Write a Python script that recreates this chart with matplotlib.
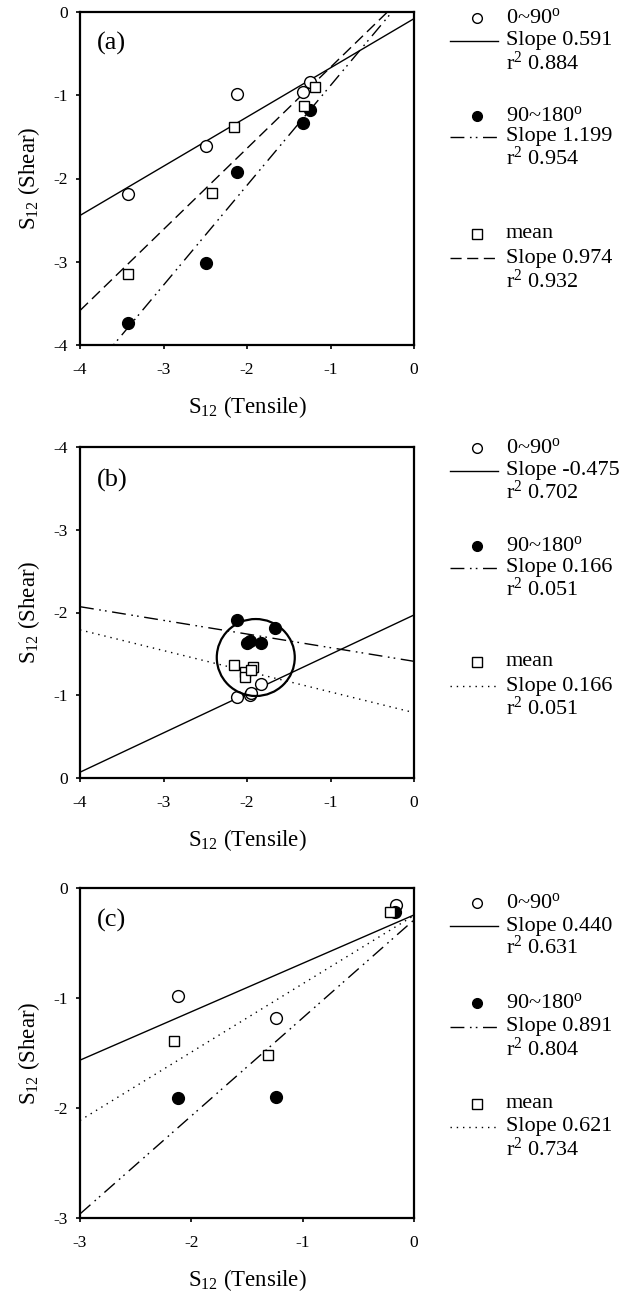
import matplotlib
matplotlib.use("Agg")
import matplotlib.pyplot as plt
from matplotlib.lines import Line2D
from matplotlib.patches import Ellipse
import numpy as np

plt.rcParams['font.family'] = ['Liberation Serif', 'DejaVu Serif']
plt.rcParams['mathtext.fontset'] = 'custom'
plt.rcParams['mathtext.rm'] = 'Liberation Serif'
plt.rcParams['mathtext.it'] = 'Liberation Serif:italic'

# ---------------- data ----------------
# panel (a)
a_open_x = [-3.43, -2.49, -2.12, -1.33, -1.25]
a_open_y = [-2.19, -1.61, -0.98, -0.96, -0.84]
a_fill_x = [-3.43, -2.49, -2.12, -1.33, -1.25]
a_fill_y = [-3.73, -3.02, -1.92, -1.33, -1.18]
a_sq_x = [-3.43, -2.42, -2.16, -1.32, -1.19]
a_sq_y = [-3.15, -2.18, -1.38, -1.13, -0.90]
a_slopes = [0.591, 1.199, 0.974]
a_intercepts = [-0.08, 0.316, 0.31]
a_labels = ["0~90", "Slope 0.591", "0.884", "90~180", "Slope 1.199", "0.954", "mean", "Slope 0.974", "0.932"]

# panel (b)
b_open_x = [-2.12, -1.97, -1.95, -1.83]
b_open_y = [-0.98, -1.00, -1.03, -1.13]
b_fill_x = [-2.12, -2.00, -1.97, -1.83, -1.67]
b_fill_y = [-1.91, -1.63, -1.65, -1.63, -1.81]
b_sq_x = [-2.16, -2.02, -2.02, -1.93, -1.95]
b_sq_y = [-1.37, -1.28, -1.22, -1.34, -1.30]
b_slopes = [-0.475, 0.165, 0.25]
b_intercepts = [-1.97, -1.41, -0.79]
b_circle = (-1.895, -1.456, 0.934, 0.93)
b_labels = ["0~90", "Slope -0.475", "0.702", "90~180", "Slope 0.166", "0.051", "mean", "Slope 0.166", "0.051"]

# panel (c)
c_open_x = [-2.12, -1.24, -0.16]
c_open_y = [-0.98, -1.18, -0.15]
c_fill_x = [-2.12, -1.24, -0.17]
c_fill_y = [-1.91, -1.90, -0.22]
c_sq_x = [-2.16, -1.31, -0.22]
c_sq_y = [-1.39, -1.52, -0.22]
c_slopes = [0.440, 0.891, 0.621]
c_intercepts = [-0.245, -0.29, -0.25]
c_labels = ["0~90", "Slope 0.440", "0.631", "90~180", "Slope 0.891", "0.804", "mean", "Slope 0.621", "0.734"]

W, H = 629, 1293
fig = plt.figure(figsize=(W / 100, H / 100), dpi=100)

def fx(x):
    return x / W

def fy(y):
    return 1 - y / H

LS_SOLID = '-'
LS_DASHDOT = (0, (10, 4, 1.2, 3, 1.2, 4))
LS_DASHED = (0, (8, 4))
LS_DOTTED = (0, (1, 3.5))

panels = [
    dict(box=(80, 12, 414, 345), xlim=(-4, 0), ylim=(-4, 0), xt=[-4, -3, -2, -1, 0], yt=[0, -1, -2, -3, -4],
         o=(a_open_x, a_open_y), f=(a_fill_x, a_fill_y), s=(a_sq_x, a_sq_y),
         slopes=a_slopes, ints=a_intercepts, styles=[LS_SOLID, LS_DASHDOT, LS_DASHED],
         labels=a_labels, tag="(a)", tagy=43,
         rows=[18, 41, 63, 116, 137, 158, 234, 258, 281]),
    dict(box=(80, 447, 414, 778), xlim=(-4, 0), ylim=(0, -4), xt=[-4, -3, -2, -1, 0], yt=[-4, -3, -2, -1, 0],
         o=(b_open_x, b_open_y), f=(b_fill_x, b_fill_y), s=(b_sq_x, b_sq_y),
         slopes=b_slopes, ints=b_intercepts, styles=[LS_SOLID, LS_DASHDOT, LS_DOTTED],
         labels=b_labels, tag="(b)", tagy=480, circle=b_circle,
         rows=[448, 471, 492, 546, 568, 589, 662, 686, 708]),
    dict(box=(80, 888, 414, 1218), xlim=(-3, 0), ylim=(-3, 0), xt=[-3, -2, -1, 0], yt=[0, -1, -2, -3],
         o=(c_open_x, c_open_y), f=(c_fill_x, c_fill_y), s=(c_sq_x, c_sq_y),
         slopes=c_slopes, ints=c_intercepts, styles=[LS_SOLID, LS_DASHDOT, LS_DOTTED],
         labels=c_labels, tag="(c)", tagy=920,
         rows=[903, 926, 947, 1003, 1027, 1049, 1104, 1127, 1149]),
]

for p in panels:
    x0, y0, x1, y1 = p['box']
    ax = fig.add_axes([fx(x0), fy(y1), (x1 - x0) / W, (y1 - y0) / H])
    ax.set_xlim(*p['xlim'])
    ax.set_ylim(*p['ylim'])
    ax.set_xticks(p['xt'])
    ax.set_yticks(p['yt'])
    ax.set_xticklabels([str(v) for v in p['xt']])
    ax.set_yticklabels([str(v) for v in p['yt']])
    ax.tick_params(direction='out', length=3, width=1.2, labelsize=12.5)
    ax.tick_params(axis='x', pad=9)
    ax.tick_params(axis='y', pad=6)
    for sp in ax.spines.values():
        sp.set_linewidth(1.6)
    xx = np.array(p['xlim'], dtype=float)
    for m, b, ls in zip(p['slopes'], p['ints'], p['styles']):
        ax.plot(xx, m * xx + b, color='black', lw=1.0, linestyle=ls)
    ax.plot(*p['o'], 'o', ms=8.5, mfc='white', mec='black', mew=1.0, ls='none', zorder=3)
    ax.plot(*p['f'], 'o', ms=8.5, mfc='black', mec='black', mew=1.0, ls='none', zorder=3)
    ax.plot(*p['s'], 's', ms=7.5, mfc='white', mec='black', mew=1.0, ls='none', zorder=3)
    if 'circle' in p:
        cx, cy, w, h = p['circle']
        ax.add_patch(Ellipse((cx, cy), w, h, fill=False, ec='black', lw=1.6, zorder=4))
    ax.set_xlabel(r'S$_{\mathregular{12}}$ (Tensile)', fontsize=16.5, labelpad=12)
    ax.set_ylabel(r'S$_{\mathregular{12}}$ (Shear)', fontsize=16.5, labelpad=8)
    ax.text(0.05, 1 - (p['tagy'] - y0) / (y1 - y0), p['tag'], transform=ax.transAxes,
            fontsize=19, va='center', ha='left')

    # legend block
    rows = p['rows']
    labels = p['labels']
    mk = ['o', 'o', 's']
    mfc = ['white', 'black', 'white']
    for g in range(3):
        r0, r1, r2 = rows[3 * g:3 * g + 3]
        fig.add_artist(Line2D([fx(477)], [fy(r0)], marker=mk[g], ms=7 if g < 2 else 6.5,
                              mfc=mfc[g], mec='black', mew=1.0, ls='none'))
        fig.text(fx(506), fy(r0), labels[3 * g] + r'$^{\mathregular{o}}$' if g < 2 else labels[3 * g],
                 fontsize=16, va='center', ha='left')
        fig.add_artist(Line2D([fx(450), fx(498)], [fy(r1), fy(r1)], color='black', lw=1.0,
                              linestyle=p['styles'][g]))
        fig.text(fx(506), fy(r1), labels[3 * g + 1], fontsize=16, va='center', ha='left')
        fig.text(fx(506), fy(r2), r'r$^{\mathregular{2}}$ ' + labels[3 * g + 2], fontsize=16,
                 va='center', ha='left')

fig.savefig('out.png', dpi=100)
